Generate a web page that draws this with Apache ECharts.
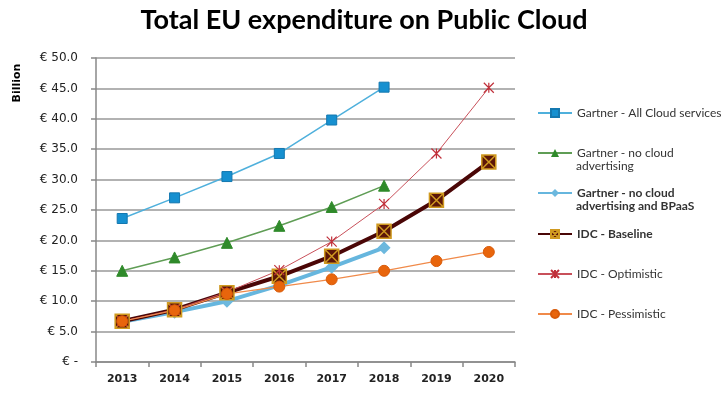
<!DOCTYPE html>
<html>
<head>
<meta charset="utf-8">
<script src="https://cdn.jsdelivr.net/npm/echarts@6/dist/echarts.min.js"></script>
<style>
  html, body { margin: 0; padding: 0; background: #fff; }
  #chart { width: 728px; height: 396px; }
</style>
</head>
<body>
<div id="chart"></div>
<script>
// categories and values (billion euro)
var years = ['2013', '2014', '2015', '2016', '2017', '2018', '2019', '2020'];
var gartnerAll = [23.6, 27.0, 30.5, 34.3, 39.8, 45.2, null, null];
var gartnerNoAd = [15.0, 17.2, 19.6, 22.4, 25.5, 29.0, null, null];
var gartnerNoAdBpaas = [6.6, 8.2, 10.0, 12.6, 15.6, 18.8, null, null];
var idcBaseline = [6.7, 8.6, 11.4, 14.1, 17.4, 21.5, 26.6, 32.9];
var idcOptimistic = [6.7, 8.6, 11.5, 15.1, 19.8, 26.0, 34.3, 45.1];
var idcPessimistic = [6.7, 8.5, 11.2, 12.4, 13.6, 15.0, 16.6, 18.1];

var names = [
  'Gartner - All Cloud services',
  'Gartner - no cloud advertising',
  'Gartner - no cloud advertising and BPaaS',
  'IDC - Baseline',
  'IDC - Optimistic',
  'IDC - Pessimistic'
];
// first line of each legend entry, second line drawn separately
var legendFirst = ['Gartner - All Cloud services', 'Gartner - no cloud', 'Gartner - no cloud', 'IDC - Baseline', 'IDC - Optimistic', 'IDC - Pessimistic'];
var legendTops = [107, 147, 187, 228, 268, 308];

var boxX = 'path://M0 0 L10 0 L10 10 L0 10 Z M0 0 L10 10 M10 0 L0 10';
var star = 'path://M0 0 L10 10 M10 0 L0 10 M5 0 L5 10';

var chart = echarts.init(document.getElementById('chart'));

var legends = names.map(function (n, i) {
  var bold = (i === 2 || i === 3);
  return {
    data: [n],
    left: 537,
    top: legendTops[i],
    padding: 0,
    itemWidth: 34,
    itemHeight: 10,
    itemGap: 0,
    selectedMode: false,
    formatter: function () { return legendFirst[i]; },
    textStyle: {
      fontFamily: 'Lato',
      fontSize: 12,
      color: '#333',
      fontWeight: bold ? 'bold' : 'normal'
    }
  };
});

var option = {
  animation: false,
  title: {
    text: 'Total EU expenditure on Public Cloud',
    left: 'center',
    top: 2,
    padding: 5,
    textStyle: { fontFamily: 'Lato', fontSize: 27, fontWeight: 'bold', color: '#000' }
  },
  graphic: [
    {
      type: 'text', x: 17, y: 83, rotation: Math.PI / 2,
      style: { text: 'Billion', font: 'bold 11px "DejaVu Sans"', fill: '#000', align: 'center', verticalAlign: 'middle' }
    },
    {
      type: 'text', left: 576, top: 160,
      style: { text: 'advertising', font: '12px Lato', fill: '#333' }
    },
    {
      type: 'text', left: 576, top: 200,
      style: { text: 'advertising and BPaaS', font: 'bold 12px Lato', fill: '#333' }
    }
  ],
  legend: legends,
  grid: { left: 96, right: 213, top: 58, bottom: 34 },
  xAxis: {
    type: 'category',
    data: years,
    boundaryGap: true,
    axisLine: { lineStyle: { color: '#888', width: 1.5 } },
    axisTick: { show: true, length: 5, lineStyle: { color: '#888', width: 1.5 } },
    axisLabel: { margin: 12, fontFamily: 'DejaVu Sans', fontSize: 11, fontWeight: 'bold', color: '#222' }
  },
  yAxis: {
    type: 'value',
    min: 0,
    max: 50,
    interval: 5,
    axisLine: { show: true, lineStyle: { color: '#888', width: 1.5 } },
    axisTick: { show: true, length: 5, lineStyle: { color: '#888', width: 1.5 } },
    splitLine: { lineStyle: { color: '#999', width: 1.5 } },
    axisLabel: {
      margin: 18,
      fontFamily: 'DejaVu Sans',
      fontSize: 12,
      color: '#222',
      formatter: function (v) { return v === 0 ? '€ -' : '€ ' + v.toFixed(1); }
    }
  },
  series: [
    {
      name: names[0], type: 'line', data: gartnerAll,
      symbol: 'rect', symbolSize: 10,
      lineStyle: { color: '#4fb0dc', width: 1.5 },
      itemStyle: { color: '#1690d0', borderColor: '#1478b0', borderWidth: 1 }
    },
    {
      name: names[1], type: 'line', data: gartnerNoAd,
      symbol: 'triangle', symbolSize: 11,
      lineStyle: { color: '#5f9d55', width: 1.5 },
      itemStyle: { color: '#2f8a2a', borderColor: '#2f8a2a' }
    },
    {
      name: names[2], type: 'line', data: gartnerNoAdBpaas,
      symbol: 'diamond', symbolSize: 13,
      lineStyle: { color: '#66b6de', width: 4 },
      itemStyle: { color: '#6cb8de' }
    },
    {
      name: names[3], type: 'line', data: idcBaseline,
      symbol: boxX, symbolSize: 14, symbolKeepAspect: true,
      lineStyle: { color: '#4a0606', width: 4 },
      itemStyle: { color: '#5c1608', borderColor: '#d09a20', borderWidth: 1.5 }
    },
    {
      name: names[4], type: 'line', data: idcOptimistic,
      symbol: star, symbolSize: 10,
      lineStyle: { color: '#c8505a', width: 1 },
      itemStyle: { color: '#c0303a', borderColor: '#c0303a', borderWidth: 1.2 }
    },
    {
      name: names[5], type: 'line', data: idcPessimistic,
      symbol: 'circle', symbolSize: 11,
      lineStyle: { color: '#f08a4a', width: 1.2 },
      itemStyle: { color: '#e8650c', borderColor: '#d85a08', borderWidth: 1 }
    }
  ]
};

chart.setOption(option);
</script>
</body>
</html>
